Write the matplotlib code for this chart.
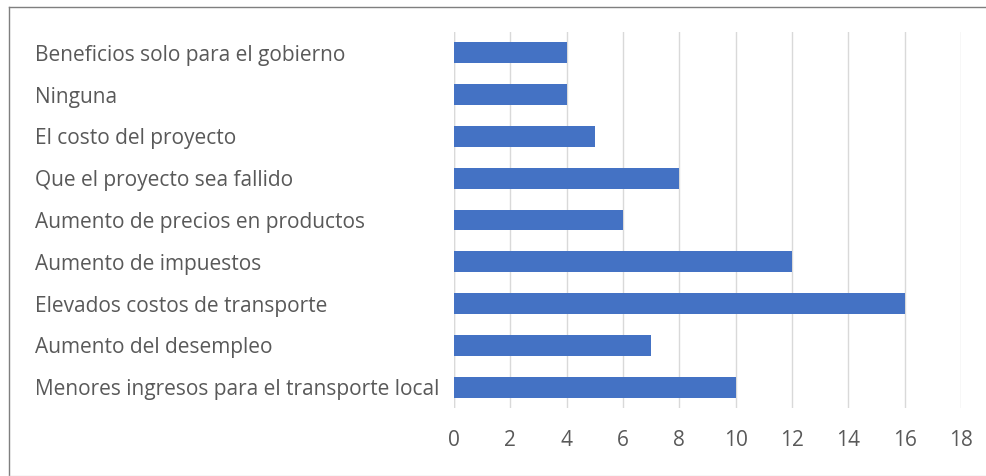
import matplotlib
matplotlib.use("Agg")
import matplotlib.pyplot as plt
from matplotlib.lines import Line2D

categories = [
    "Beneficios solo para el gobierno",
    "Ninguna",
    "El costo del proyecto",
    "Que el proyecto sea fallido",
    "Aumento de precios en productos",
    "Aumento de impuestos",
    "Elevados costos de transporte",
    "Aumento del desempleo",
    "Menores ingresos para el transporte local",
]
values = [4, 4, 5, 8, 6, 12, 16, 7, 10]
x_ticks = [0, 2, 4, 6, 8, 10, 12, 14, 16, 18]

W, H = 986, 476
fig = plt.figure(figsize=(W / 100, H / 100), dpi=100)
fig.patch.set_facecolor("white")

ax = fig.add_axes([454 / W, 1 - 408 / H, (961 - 454) / W, (408 - 32) / H])

pos = list(range(len(categories)))
ax.barh(pos, values, height=0.5, color="#4472C4", zorder=3)

ax.set_xlim(0, 18)
ax.set_ylim(len(categories) - 0.5, -0.5)
ax.set_xticks(x_ticks)
ax.set_xticklabels([str(t) for t in x_ticks])
ax.set_yticks(pos)
ax.set_yticklabels(categories)

ax.grid(axis="x", color="#D9D9D9", linewidth=1.0, zorder=0)
for s in ax.spines.values():
    s.set_visible(False)
ax.axvline(0, color="#D9D9D9", linewidth=1.0, zorder=1)

ax.tick_params(axis="both", length=0, labelcolor="#595959", labelsize=15)
ax.tick_params(axis="x", pad=16)
ax.tick_params(axis="y", pad=(454 - 35) * 0.72)
for lbl in ax.get_yticklabels() + ax.get_xticklabels():
    lbl.set_fontfamily("Open Sans")
for lbl in ax.get_yticklabels():
    lbl.set_horizontalalignment("left")

# outer frame
fig.add_artist(Line2D([8.5 / W, 8.5 / W], [1 - 6.5 / H, 1 - 475.5 / H],
                      transform=fig.transFigure, color="#7F7F7F", linewidth=1.0))
fig.add_artist(Line2D([8.5 / W, 1.0], [1 - 6.5 / H, 1 - 6.5 / H],
                      transform=fig.transFigure, color="#7F7F7F", linewidth=1.0))
fig.add_artist(Line2D([8.5 / W, 1.0], [1 - 475.5 / H, 1 - 475.5 / H],
                      transform=fig.transFigure, color="#D9D9D9", linewidth=1.0))

fig.savefig("out.png", dpi=100)
